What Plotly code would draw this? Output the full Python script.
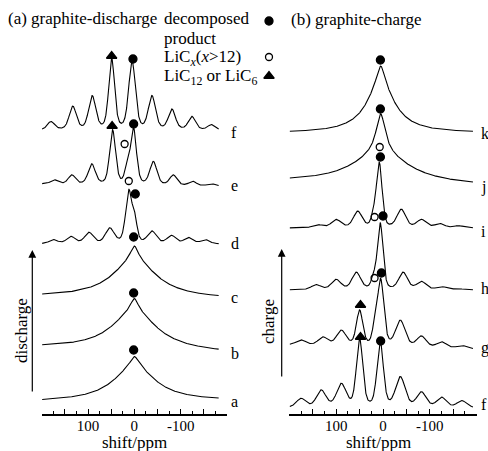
import numpy as np
import plotly.graph_objects as go

# ---------------- data ----------------
# peak lists per spectrum: centre (ppm), amplitude (intensity units), FWHM (ppm)
# (a) graphite-discharge
dis_a_pos = [0, 0];   dis_a_amp = [10, 35]; dis_a_fwhm = [20, 110]
dis_b_pos = [0, 0];   dis_b_amp = [13, 39]; dis_b_fwhm = [20, 120]
dis_c_pos = [0, 0];   dis_c_amp = [14, 38]; dis_c_fwhm = [20, 115]
dis_d_pos = [175, 137, 98, 53, 12, -1, -38, -80, -117, -153]
dis_d_amp = [4, 7, 11, 15, 52, 20, 12, 8, 6, 4]
dis_d_fwhm = [22, 22, 22, 22, 16, 12, 22, 22, 22, 22]
dis_e_pos = [173, 135, 92, 47, 16, 2, -41, -84, -126, -166]
dis_e_amp = [4, 9, 20, 54, 14, 56, 23, 10, 4, 2]
dis_e_fwhm = [18, 18, 18, 15, 12, 15, 18, 18, 18, 18]
dis_f_pos = [180, 133, 91, 49, 5, -38, -81, -124, -166]
dis_f_amp = [8, 23, 33, 70, 68, 33, 20, 13, 5]
dis_f_fwhm = [18, 18, 18, 15, 17, 18, 18, 18, 18]

# (b) graphite-charge
chg_f_pos = [175, 132, 89, 50, 6, -37, -82, -125, -168]
chg_f_amp = [9, 17, 23, 68, 65, 30, 15, 10, 7]
chg_f_fwhm = [24, 24, 24, 16, 16, 24, 24, 24, 24]
chg_g_pos = [175, 128, 89, 50, 18, 5, -37, -82, -125, -168]
chg_g_amp = [5, 8, 15, 35, 15, 66, 26, 11, 6, 3]
chg_g_fwhm = [24, 24, 24, 16, 12, 16, 24, 24, 24, 24]
chg_h_pos = [143, 100, 57, 20, 6, -43, -82, -125, -160]
chg_h_amp = [5, 10, 17, 10, 66, 17, 8, 3, 1]
chg_h_fwhm = [24, 24, 22, 12, 14, 22, 24, 24, 24]
chg_i_pos = [139, 100, 54, 20, 8, -39, -82, -121, -161]
chg_i_amp = [3, 8, 16, 10, 64, 18, 8, 4, 2]
chg_i_fwhm = [24, 24, 22, 12, 14, 22, 24, 24, 24]
chg_j_pos = [5, 5];  chg_j_amp = [40, 30]; chg_j_fwhm = [24, 150]
chg_k_pos = [5, 5];  chg_k_amp = [20, 47]; chg_k_fwhm = [20, 75]

# assignment markers: ppm, height, species
dis_mark_ppm = [49, 3, 48, 21, 1.5, 12, -2, 1.5, 1.5, 1.5]
dis_mark_y = [358, 355, 288, 270, 290, 233, 220, 177, 121, 64]
dis_mark_kind = ["lic6", "dec", "lic6", "licx", "dec", "licx", "dec", "dec", "dec", "dec"]
chg_mark_ppm = [5.6, 5.6, 7, 5.6, 18, 0, 18, 3.4, 48, 48, 5]
chg_mark_y = [354, 305, 267, 257, 197, 198, 136, 141, 109, 77, 73]
chg_mark_kind = ["dec", "dec", "licx", "dec", "licx", "dec", "licx", "dec", "lic6", "lic6", "dec"]

tick_vals = [150, 100, 50, 0, -50, -100, -150]
tick_text = ["", "100", "", "0", "", "-100", ""]
minor_vals = [175, 125, 75, 25, -25, -75, -125, -175]

# ---------------- layout / style ----------------
W, H = 488, 451
AXY = 414
FONT = "Liberation Serif"

def px(x):
    return x / W

def py(y):
    return 1 - y / H

# stacking: baseline (left end, right end), lineshape Lorentz fraction
dis_specs = [
    ("a", dis_a_pos, dis_a_amp, dis_a_fwhm, (12, 13), 1.0),
    ("b", dis_b_pos, dis_b_amp, dis_b_fwhm, (66, 61), 1.0),
    ("c", dis_c_pos, dis_c_amp, dis_c_fwhm, (117, 115), 1.0),
    ("d", dis_d_pos, dis_d_amp, dis_d_fwhm, (170, 170), 0.4),
    ("e", dis_e_pos, dis_e_amp, dis_e_fwhm, (230, 228), 0.35),
    ("f", dis_f_pos, dis_f_amp, dis_f_fwhm, (284, 284), 0.35),
]
chg_specs = [
    ("f", chg_f_pos, chg_f_amp, chg_f_fwhm, (6, 6), 0.35),
    ("g", chg_g_pos, chg_g_amp, chg_g_fwhm, (69, 65), 0.35),
    ("h", chg_h_pos, chg_h_amp, chg_h_fwhm, (124, 124), 0.35),
    ("i", chg_i_pos, chg_i_amp, chg_i_fwhm, (186, 186), 0.35),
    ("j", chg_j_pos, chg_j_amp, chg_j_fwhm, (232, 228), 1.0),
    ("k", chg_k_pos, chg_k_amp, chg_k_fwhm, (281, 281), 1.0),
]

def spectrum(x, pos, amp, fwhm, base, eta):
    y = base[0] + (base[1] - base[0]) * (x[0] - x) / (x[0] - x[-1])
    for p, a, w in zip(pos, amp, fwhm):
        d = (x - p) / (w / 2.0)
        lor = 1.0 / (1.0 + d ** 2)
        gau = np.exp(-np.log(2) * d ** 2)
        y = y + a * (eta * lor + (1 - eta) * gau)
    return y

fig = go.Figure()
LINE = dict(color="black", width=1.1)

xl = np.linspace(199, -182, 1200)
for name, pos, amp, fw, base, eta in dis_specs:
    fig.add_trace(go.Scatter(x=xl, y=spectrum(xl, pos, amp, fw, base, eta), mode="lines",
                             line=LINE, xaxis="x", yaxis="y", showlegend=False, hoverinfo="skip"))
xr = np.linspace(199, -192, 1200)
for name, pos, amp, fw, base, eta in chg_specs:
    fig.add_trace(go.Scatter(x=xr, y=spectrum(xr, pos, amp, fw, base, eta), mode="lines",
                             line=LINE, xaxis="x2", yaxis="y2", showlegend=False, hoverinfo="skip"))

SYM = {"dec": ("circle", 8, "black"), "licx": ("circle-open", 7, "black"), "lic6": ("triangle-up", 9, "black")}

def add_marks(ppm, yy, kind, xa, ya):
    for k in SYM:
        xs = [p for p, kk in zip(ppm, kind) if kk == k]
        ys = [v for v, kk in zip(yy, kind) if kk == k]
        s, sz, c = SYM[k]
        fig.add_trace(go.Scatter(x=xs, y=ys, mode="markers", xaxis=xa, yaxis=ya,
                                 marker=dict(symbol=s, size=sz, color=c, line=dict(width=1.3, color="black")),
                                 showlegend=False, hoverinfo="skip"))

add_marks(dis_mark_ppm, dis_mark_y, dis_mark_kind, "x", "y")
add_marks(chg_mark_ppm, chg_mark_y, chg_mark_kind, "x2", "y2")

# legend keys on a full-figure overlay axis
for k, yy in [("dec", 21), ("licx", 57), ("lic6", 76)]:
    s, sz, c = SYM[k]
    fig.add_trace(go.Scatter(x=[269], y=[yy], mode="markers", xaxis="x3", yaxis="y3",
                             marker=dict(symbol=s, size=sz, color=c, line=dict(width=1.3, color="black")),
                             showlegend=False, hoverinfo="skip"))

xcommon = dict(range=[200, -200], tickmode="array", tickvals=tick_vals, ticktext=tick_text,
               ticks="inside", ticklen=5, tickwidth=1.2, tickcolor="black",
               minor=dict(tickmode="array", tickvals=minor_vals, ticks="inside", ticklen=3,
                          tickwidth=1.2, tickcolor="black"),
               showline=True, linecolor="black", linewidth=1.5, showgrid=False, zeroline=False,
               ticklabelstandoff=-3,
               tickfont=dict(family=FONT, size=15, color="black"), fixedrange=True)
ycommon = dict(range=[0, AXY], domain=[(H - AXY) / H, 1], visible=False, fixedrange=True)

fig.update_layout(
    width=W, height=H, margin=dict(l=0, r=0, t=0, b=0),
    paper_bgcolor="white", plot_bgcolor="rgba(0,0,0,0)",
    xaxis=dict(domain=[px(41.7), px(227)], anchor="y", **xcommon),
    yaxis=dict(anchor="x", **ycommon),
    xaxis2=dict(domain=[px(289.3), px(476.7)], anchor="y2", **xcommon),
    yaxis2=dict(anchor="x2", **ycommon),
    xaxis3=dict(domain=[0, 1], range=[0, W], visible=False, anchor="y3", fixedrange=True),
    yaxis3=dict(domain=[0, 1], range=[H, 0], visible=False, anchor="x3", fixedrange=True),
    font=dict(family=FONT, color="black"),
)

ann = []
def text(t, x, y, size=17, xanchor="left", **kw):
    ann.append(dict(text=t, x=px(x), y=py(y), xref="paper", yref="paper", showarrow=False,
                    xanchor=xanchor, yanchor="middle", font=dict(family=FONT, size=size, color="black"), **kw))

text("(a) graphite-discharge", 6, 18)
text("decomposed", 162, 18)
text("product", 162, 39)
text("LiC<sub><i>x</i></sub>(<i>x</i>&gt;12)", 162, 58)
text("LiC<sub>12</sub> or LiC<sub>6</sub>", 162, 77)
text("(b) graphite-charge", 289, 20)
text("shift/ppm", 134, 442, xanchor="center")
text("shift/ppm", 378, 442, xanchor="center")

for lab, yy in [("a", 401), ("b", 353), ("c", 297), ("d", 243), ("e", 186), ("f", 132)]:
    text(lab, 229, yy, size=16)
for lab, yy in [("f", 404), ("g", 348), ("h", 288), ("i", 231), ("j", 187), ("k", 133)]:
    text(lab, 479, yy, size=16)

text("discharge", 21, 331, xanchor="center", textangle=-90)
text("charge", 268, 322, xanchor="center", textangle=-90)

# arrows
ann.append(dict(x=px(32.3), y=py(250), xref="paper", yref="paper", ax=0, ay=143, axref="pixel", ayref="pixel",
                showarrow=True, arrowhead=2, arrowsize=1.3, arrowwidth=1.2, arrowcolor="black", text=""))
ann.append(dict(x=px(281.7), y=py(249), xref="paper", yref="paper", ax=0, ay=129, axref="pixel", ayref="pixel",
                showarrow=True, arrowhead=2, arrowsize=1.3, arrowwidth=1.2, arrowcolor="black", text=""))

fig.update_layout(annotations=ann)
fig.write_html("out.html", config={"displayModeBar": False},
               post_script="document.body.style.margin='0';document.body.style.overflow='hidden';")
